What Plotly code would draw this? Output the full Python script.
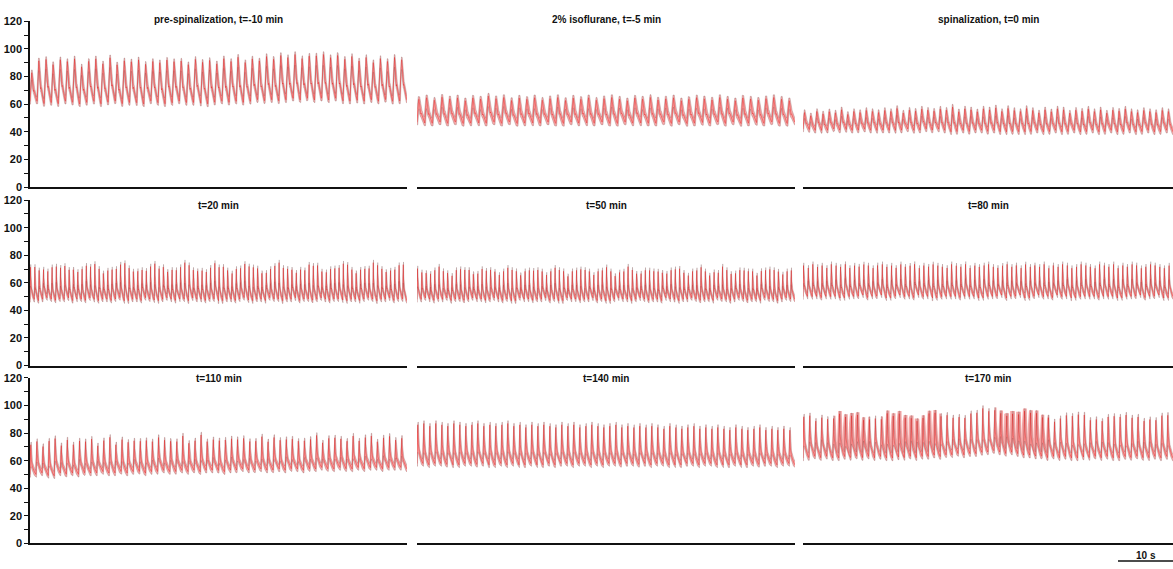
import numpy as np
import plotly.graph_objects as go

# ---- panel titles -------------------------------------------------------
TITLES = [
    "pre-spinalization, t=-10 min", "2% isoflurane, t=-5 min", "spinalization, t=0 min",
    "t=20 min", "t=50 min", "t=80 min",
    "t=110 min", "t=140 min", "t=170 min",
]

# ---- per-beat systolic peaks / diastolic troughs of the mean trace (mmHg) ----
SYS_1 = [83, 92, 93, 89, 93, 91, 94, 87, 92, 93, 90, 94, 89, 92, 91, 93, 89, 92, 90, 93,
         91, 92, 89, 93, 91, 92, 90, 93, 92, 94, 91, 93, 92, 95, 93, 96, 94, 97, 93, 96,
         95, 97, 94, 96, 93, 95, 92, 94, 91, 93, 92, 94, 93]
DIA_1 = [62, 60, 61, 60, 62, 61, 60, 61, 62, 60, 61, 62, 60, 61, 61, 60, 62, 61, 60, 61,
         62, 61, 61, 62, 60, 61, 62, 61, 62, 61, 62, 63, 62, 63, 62, 63, 64, 63, 64, 63,
         64, 63, 64, 63, 62, 63, 62, 63, 62, 63, 62, 62, 63]

SYS_2 = [64, 65, 63, 65, 64, 65, 63, 65, 64, 66, 64, 65, 63, 65, 64, 65, 63, 64, 65, 63,
         65, 64, 65, 63, 64, 65, 64, 63, 65, 64, 65, 63, 64, 65, 63, 64, 65, 64, 63, 65,
         64, 63, 65, 64, 63, 64, 65, 64, 63]
DIA_2 = [47, 46, 47, 46, 47, 46, 46, 47, 46, 47, 46, 47, 46, 46, 47, 46, 47, 46, 46, 47,
         46, 47, 46, 47, 46, 46, 47, 46, 47, 46, 46, 47, 46, 47, 46, 46, 47, 46, 47, 46,
         47, 46, 46, 47, 46, 47, 46, 46, 47]

SYS_3 = [54, 52, 55, 53, 55, 54, 56, 53, 55, 54, 56, 55, 54, 56, 55, 57, 54, 56, 55, 57,
         56, 55, 57, 56, 58, 55, 57, 56, 55, 57, 56, 58, 55, 57, 56, 55, 57, 56, 54, 56,
         55, 57, 56, 54, 56, 55, 57, 55, 56, 54, 56, 55, 57, 55, 54, 56, 55, 54, 56, 55]
DIA_3 = [42, 41, 42, 41, 42, 41, 42, 41, 41, 42, 41, 42, 41, 41, 42, 41, 42, 41, 41, 42,
         41, 42, 41, 41, 40, 41, 40, 41, 41, 40, 41, 40, 41, 40, 40, 41, 40, 41, 40, 40,
         41, 40, 40, 41, 40, 40, 41, 40, 40, 41, 40, 40, 41, 40, 40, 41, 40, 40, 41, 40]

SYS_4 = [72, 74, 73, 75, 72, 74, 73, 71, 74, 73, 75, 72, 73, 74, 72, 75, 73, 71, 74, 73,
         72, 74, 75, 73, 72, 74, 73, 71, 73, 74, 72, 75, 73, 74, 72, 73, 75, 74, 72, 73,
         74, 71, 73, 75, 72, 74, 73, 72, 74, 73, 75, 72, 73, 74, 72, 71, 73, 74, 75, 72,
         73, 74, 72, 73, 71, 74, 73, 75, 72, 73, 74, 73, 72, 74, 75, 73, 72, 74, 73, 72,
         75, 74, 73, 72, 74, 73, 75, 74]
DIA_4 = [48, 47, 48, 49, 48, 47, 48, 48, 49, 47, 48, 48, 47, 49, 48, 47, 48, 48, 47, 48,
         49, 48, 47, 48, 48, 47, 49, 48, 48, 47, 48, 49, 48, 47, 48, 48, 47, 49, 48, 48,
         47, 48, 48, 49, 47, 48, 48, 47, 48, 49, 48, 47, 48, 48, 47, 49, 48, 48, 47, 48,
         48, 49, 47, 48, 48, 47, 48, 49, 48, 47, 48, 48, 49, 47, 48, 48, 47, 48, 49, 48,
         47, 48, 48, 49, 47, 48, 48, 47]

SYS_5 = [71, 70, 72, 70, 71, 72, 70, 71, 69, 72, 71, 70, 72, 71, 70, 72, 69, 71, 72, 70,
         71, 72, 70, 71, 70, 72, 71, 69, 71, 72, 70, 71, 72, 70, 71, 69, 72, 71, 70, 71,
         72, 70, 71, 70, 72, 71, 69, 71, 70, 72, 71, 70, 71, 72, 70, 69, 71, 72, 70, 71,
         70, 72, 71, 69, 71, 70, 72, 71, 70, 71, 69, 72, 71, 70, 71, 72, 70, 69, 71, 70,
         72, 71, 70, 71, 72, 70, 71, 70]
DIA_5 = [48, 49, 48, 47, 48, 48, 49, 47, 48, 48, 47, 48, 49, 48, 48, 47, 48, 49, 48, 47,
         48, 48, 47, 49, 48, 48, 47, 48, 48, 49, 47, 48, 48, 47, 49, 48, 48, 47, 48, 48,
         49, 47, 48, 48, 47, 48, 49, 48, 48, 47, 48, 49, 48, 47, 48, 48, 47, 49, 48, 48,
         47, 48, 48, 49, 48, 47, 48, 48, 47, 49, 48, 48, 47, 48, 49, 48, 47, 48, 48, 47,
         49, 48, 48, 47, 48, 49, 48, 48]

SYS_6 = [75, 73, 76, 74, 75, 73, 76, 75, 74, 76, 73, 75, 74, 76, 75, 73, 75, 76, 74, 75,
         73, 76, 74, 75, 76, 73, 75, 74, 76, 75, 74, 73, 76, 75, 74, 76, 73, 75, 74, 75,
         76, 74, 73, 75, 76, 74, 75, 73, 76, 74, 75, 74, 76, 73, 75, 74, 76, 75, 73, 74,
         76, 75, 74, 73, 76, 75, 74, 76, 73, 75, 74, 76, 75, 73, 74, 76, 75, 74, 73, 75]
DIA_6 = [50, 51, 50, 49, 50, 51, 50, 50, 49, 51, 50, 50, 51, 49, 50, 50, 51, 50, 49, 50,
         51, 50, 50, 49, 51, 50, 50, 51, 49, 50, 50, 51, 50, 49, 50, 51, 50, 50, 49, 51,
         50, 50, 51, 49, 50, 50, 51, 50, 49, 50, 51, 50, 50, 49, 51, 50, 50, 51, 49, 50,
         50, 51, 50, 49, 50, 51, 50, 50, 49, 51, 50, 50, 51, 49, 50, 50, 51, 50, 49, 50]

SYS_7 = [72, 76, 73, 75, 78, 74, 76, 73, 78, 75, 77, 74, 76, 78, 75, 77, 74, 78, 76, 75,
         77, 79, 75, 77, 76, 78, 75, 77, 79, 76, 78, 75, 77, 79, 76, 78, 77, 75, 79, 77,
         78, 76, 79, 77, 75, 78, 77, 79, 76, 78, 77, 79, 76, 78, 77, 79, 78, 76, 79, 78,
         77, 79]
DIA_7 = [50, 51, 50, 49, 51, 50, 51, 50, 51, 51, 51, 52, 51, 51, 52, 51, 52, 52, 51, 52,
         52, 53, 52, 52, 53, 52, 53, 52, 53, 53, 53, 52, 53, 53, 54, 53, 53, 54, 53, 53,
         54, 53, 54, 54, 53, 54, 54, 55, 54, 54, 55, 54, 54, 55, 54, 55, 55, 54, 55, 55,
         55, 54]

SYS_8 = [87, 88, 86, 88, 87, 86, 88, 87, 86, 87, 88, 86, 87, 86, 87, 88, 86, 87, 85, 87,
         86, 87, 86, 85, 87, 86, 87, 85, 86, 87, 86, 85, 86, 87, 85, 86, 85, 86, 85, 86,
         85, 84, 86, 85, 84, 85, 86, 84, 85, 84, 85, 84, 83, 85, 84, 83, 84, 85, 83, 84,
         83, 84, 83]
DIA_8 = [58, 57, 58, 58, 57, 58, 57, 58, 58, 57, 58, 58, 57, 58, 57, 58, 58, 57, 58, 58,
         57, 58, 57, 58, 58, 57, 58, 58, 57, 58, 57, 58, 58, 57, 58, 58, 57, 58, 57, 58,
         58, 57, 58, 57, 58, 58, 57, 58, 58, 57, 58, 57, 58, 58, 57, 58, 57, 58, 58, 57,
         58, 58, 57]

SYS_9 = [93, 95, 92, 96, 94, 93, 95, 92, 94, 96, 93, 95, 94, 92, 95, 93, 96, 94, 95, 93,
         94, 96, 95, 93, 95, 94, 96, 95, 97, 96, 98, 97, 99, 98, 97, 98, 96, 97, 95, 96,
         94, 95, 93, 94, 95, 93, 94, 95, 92, 94, 93, 95, 94, 92, 94, 93, 95, 93, 94, 92,
         94, 93]
DIA_9 = [62, 63, 62, 63, 62, 62, 63, 62, 63, 62, 63, 62, 63, 62, 62, 63, 62, 63, 62, 63,
         63, 64, 63, 64, 64, 65, 64, 65, 65, 66, 66, 67, 66, 65, 66, 65, 64, 64, 63, 63,
         62, 63, 62, 63, 62, 62, 63, 62, 63, 62, 63, 62, 62, 63, 62, 63, 62, 62, 63, 62,
         63, 62]
# upper-band hold (fraction of a cycle) where the individual runs diverge
HOLD_9 = [0.10, 0.10, 0.10, 0.10, 0.10, 0.35, 0.40, 0.40, 0.40, 0.35, 0.30, 0.10, 0.10, 0.30,
          0.40, 0.40, 0.40, 0.40, 0.40, 0.35, 0.35, 0.40, 0.30, 0.10, 0.10, 0.10, 0.10, 0.10,
          0.10, 0.10, 0.10, 0.10, 0.30, 0.40, 0.40, 0.40, 0.40, 0.40, 0.40, 0.35, 0.30, 0.10,
          0.10, 0.10, 0.10, 0.10, 0.10, 0.10, 0.10, 0.10, 0.10, 0.10, 0.10, 0.10, 0.10, 0.10,
          0.10, 0.10, 0.10, 0.10, 0.10, 0.10]

SYSTOLIC = [SYS_1, SYS_2, SYS_3, SYS_4, SYS_5, SYS_6, SYS_7, SYS_8, SYS_9]
DIASTOLIC = [DIA_1, DIA_2, DIA_3, DIA_4, DIA_5, DIA_6, DIA_7, DIA_8, DIA_9]
HOLD = [None] * 8 + [HOLD_9]

# normalised pressure pulses (0 = diastole, 1 = systole) over one cardiac cycle
BROAD_PHASE = [0.00, 0.08, 0.16, 0.24, 0.32, 0.40, 0.48, 0.56, 0.64, 0.72, 0.80, 0.88, 1.00]
BROAD_SHAPE = [0.00, 0.35, 0.82, 1.00, 0.82, 0.52, 0.34, 0.38, 0.28, 0.19, 0.11, 0.05, 0.00]
SHARP_PHASE = [0.00, 0.06, 0.12, 0.18, 0.26, 0.34, 0.44, 0.54, 0.64, 0.76, 0.88, 1.00]
SHARP_SHAPE = [0.00, 0.50, 1.00, 0.60, 0.30, 0.32, 0.22, 0.19, 0.13, 0.07, 0.03, 0.00]
PULSES = [(BROAD_PHASE, BROAD_SHAPE)] * 3 + [(SHARP_PHASE, SHARP_SHAPE)] * 6

Y_TICKS = [0, 20, 40, 60, 80, 100, 120]

# ---- page geometry (pixels) ---------------------------------------------
W, H = 1173, 569
COL_PX = [(30, 407), (417, 795), (803, 1173)]
ROW_PX = [(15.5, 185), (198.3, 367.3), (380, 549)]   # (top = 120 mmHg, bottom = 0)
TITLE_Y_PX = [14, 204, 381]
PX_PER_S = 55 / 10.0                                  # 10 s scale bar = 55 px
SAMPLES_PER_PX = 4
SCATTER = 0.10                                        # timing scatter, fraction of cycle
SPREAD = 2.0                                          # extra half-width of the band

FONT = "Arial, Liberation Sans, sans-serif"
BAND_FILL = "rgba(235,60,60,0.45)"
EDGE = "rgba(130,95,95,0.5)"
MEAN = "rgba(228,25,25,0.85)"


def window_extreme(y, win, fn):
    out = np.empty_like(y)
    n = len(y)
    for j in range(n):
        out[j] = fn(y[max(0, j - win[j]):min(n, j + win[j] + 1)])
    return out


def traces_for(sys_list, dia_list, hold_list, pulse, span_s, width_px):
    n = len(sys_list)
    period = span_s / n
    t = np.linspace(0, span_s, int(width_px * SAMPLES_PER_PX) + 1)
    beat = np.minimum((t / period).astype(int), n - 1)
    phase = t / period - beat
    lo = np.asarray(dia_list, float)[beat]
    hi = np.asarray(sys_list, float)[beat]
    mean = lo + np.interp(phase, pulse[0], pulse[1]) * (hi - lo)
    step = t[1] - t[0]
    base_win = np.full(len(t), max(1, int(SCATTER * period / step)))
    upper = window_extreme(mean, base_win, np.max) + SPREAD
    lower = window_extreme(mean, base_win, np.min) - SPREAD
    if hold_list is None:
        held = upper
    else:
        hold_win = np.maximum(1, (np.asarray(hold_list, float)[beat] * period / step).astype(int))
        held = window_extreme(mean, hold_win, np.max) + SPREAD
    return t, mean, lower, upper, held


fig = go.Figure()
spans = []
for i in range(9):
    r, c = divmod(i, 3)
    k = i + 1
    x0p, x1p = COL_PX[c]
    topp, botp = ROW_PX[r]
    span = (x1p - x0p) / PX_PER_S
    spans.append(span)
    t, mean, lower, upper, held = traces_for(SYSTOLIC[i], DIASTOLIC[i], HOLD[i], PULSES[i],
                                             span, x1p - x0p)
    xa, ya = f"x{k}", f"y{k}"
    common = dict(mode="lines", xaxis=xa, yaxis=ya, hoverinfo="skip", showlegend=False)
    fig.add_trace(go.Scatter(x=t, y=lower, line=dict(color=EDGE, width=0.6), **common))
    fig.add_trace(go.Scatter(x=t, y=held, fill="tonexty", fillcolor=BAND_FILL,
                             line=dict(width=0), **common))
    fig.add_trace(go.Scatter(x=t, y=upper, line=dict(color=EDGE, width=0.6), **common))
    fig.add_trace(go.Scatter(x=t, y=mean, line=dict(color=MEAN, width=0.5), **common))

    fig.layout[f"xaxis{k}"] = dict(
        domain=[x0p / W, x1p / W], range=[0, span], anchor=ya,
        showline=True, linecolor="#111", linewidth=1.5, mirror=False,
        showgrid=False, zeroline=False, showticklabels=False, ticks="",
        fixedrange=True)
    yax = dict(
        domain=[1 - botp / H, 1 - topp / H], range=[0, 120], anchor=xa,
        showgrid=False, zeroline=False, fixedrange=True)
    if c == 0:
        yax.update(showline=True, linecolor="#111", linewidth=1.5,
                   ticks="outside", ticklen=4, tickwidth=1, tickcolor="#111",
                   tickvals=Y_TICKS, ticktext=[str(v) for v in Y_TICKS],
                   tickfont=dict(family=FONT, size=11, color="#111", weight="bold"),
                   minor=dict(ticks="outside", ticklen=4, tickwidth=1,
                              tickcolor="#111", dtick=10, showgrid=False))
    else:
        yax.update(showline=False, showticklabels=False, ticks="")
    fig.layout[f"yaxis{k}"] = yax

    fig.add_annotation(text=TITLES[i], xref="paper", yref="paper",
                       x=(x0p + x1p) / 2 / W, y=1 - TITLE_Y_PX[r] / H,
                       xanchor="center", yanchor="middle", showarrow=False,
                       font=dict(family=FONT, size=10, color="#111", weight="bold"))

# 10 s scale bar under the last panel
last = spans[-1]
fig.add_shape(type="line", xref="x9", yref="paper", x0=last - 10, x1=last,
              y0=1 - 567 / H, y1=1 - 567 / H, line=dict(color="#111", width=1.5))
fig.add_annotation(text="10 s", xref="x9", yref="paper", x=last - 5,
                   y=1 - 561 / H, xanchor="center", yanchor="middle",
                   showarrow=False,
                   font=dict(family=FONT, size=10, color="#111", weight="bold"))

fig.update_layout(width=W, height=H, margin=dict(l=0, r=0, t=0, b=0),
                  paper_bgcolor="white", plot_bgcolor="white")

fig.write_html("out.html")
